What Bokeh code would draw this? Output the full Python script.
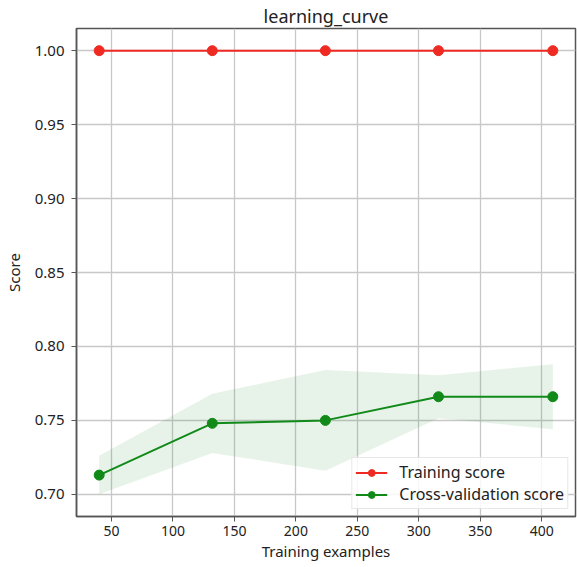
from bokeh.plotting import figure
from bokeh.models import Range1d, FixedTicker, PrintfTickFormatter, Legend, LegendItem
from bokeh.embed import file_html
from bokeh.resources import INLINE

# ---- data ----
train_sizes = [40, 132, 224, 316, 409]
train_mean = [1.0, 1.0, 1.0, 1.0, 1.0]
train_std = [0.0, 0.0, 0.0, 0.0, 0.0]
cv_mean = [0.713, 0.748, 0.750, 0.766, 0.766]
cv_std = [0.013, 0.020, 0.034, 0.0145, 0.022]
x_ticks = [50, 100, 150, 200, 250, 300, 350, 400]
y_ticks = [0.70, 0.75, 0.80, 0.85, 0.90, 0.95, 1.00]

RED = "#ee2a22"
GREEN = "#118a1a"
FONT = "Noto Sans"
TXT = "#222222"
SPINE = "#555555"

p = figure(width=577, height=567, output_backend="svg", toolbar_location=None,
           x_range=Range1d(21.55, 427.45), y_range=Range1d(0.685, 1.015),
           title="learning_curve",
           min_border_left=76, min_border_right=2, min_border_top=0, min_border_bottom=51)

p.title.align = "center"
p.title.text_font = FONT
p.title.text_font_size = "18px"
p.title.text_font_style = "normal"
p.title.text_color = TXT
p.title.text_line_height = 0.8
p.title.standoff = 2

p.background_fill_color = "white"
p.border_fill_color = "white"
p.outline_line_color = SPINE
p.outline_line_width = 1.5

for ax in (p.xaxis, p.yaxis):
    ax.axis_line_color = SPINE
    ax.axis_line_width = 1.5
    ax.major_tick_out = 5
    ax.major_tick_in = 0
    ax.major_tick_line_color = SPINE
    ax.minor_tick_line_color = None
    ax.major_label_text_font = FONT
    ax.major_label_text_color = TXT
    ax.axis_label_text_font = FONT
    ax.axis_label_text_font_size = "15px"
    ax.axis_label_text_font_style = "normal"
    ax.axis_label_text_color = TXT

p.xaxis.major_label_text_font_size = "14px"
p.yaxis.major_label_text_font_size = "15px"
p.xaxis.ticker = FixedTicker(ticks=x_ticks)
p.yaxis.ticker = FixedTicker(ticks=y_ticks)
p.yaxis.formatter = PrintfTickFormatter(format="%.2f")
p.xaxis.axis_label = "Training examples"
p.yaxis.axis_label = "Score"
p.xaxis.major_label_standoff = 4
p.yaxis.major_label_standoff = 7
p.xaxis.axis_label_standoff = 2
p.yaxis.axis_label_standoff = 8

p.xgrid.grid_line_color = "#c8c8c8"
p.ygrid.grid_line_color = "#c8c8c8"
p.xgrid.grid_line_width = 1.3
p.ygrid.grid_line_width = 1.3

tr_lo = [m - s for m, s in zip(train_mean, train_std)]
tr_hi = [m + s for m, s in zip(train_mean, train_std)]
cv_lo = [m - s for m, s in zip(cv_mean, cv_std)]
cv_hi = [m + s for m, s in zip(cv_mean, cv_std)]

p.varea(x=train_sizes, y1=tr_lo, y2=tr_hi, fill_color=RED, fill_alpha=0.1)
p.varea(x=train_sizes, y1=cv_lo, y2=cv_hi, fill_color=GREEN, fill_alpha=0.1)

l1 = p.line(train_sizes, train_mean, line_color=RED, line_width=2)
s1 = p.scatter(train_sizes, train_mean, size=10, fill_color=RED, line_color=RED)
l2 = p.line(train_sizes, cv_mean, line_color=GREEN, line_width=2)
s2 = p.scatter(train_sizes, cv_mean, size=10, fill_color=GREEN, line_color=GREEN)

legend = Legend(items=[LegendItem(label="Training score", renderers=[l1, s1]),
                       LegendItem(label="Cross-validation score", renderers=[l2, s2])],
                location="bottom_right")
legend.label_text_font = FONT
legend.label_text_font_size = "16px"
legend.label_text_color = TXT
legend.label_height = 17
legend.border_line_color = "#d0d0d0"
legend.border_line_width = 1
legend.background_fill_alpha = 0.85
legend.glyph_width = 32
legend.glyph_height = 17
legend.label_standoff = 12
legend.spacing = 0
legend.padding = 3
legend.margin = 7
p.add_layout(legend, "center")

open("out.html", "w").write(file_html(p, INLINE))
